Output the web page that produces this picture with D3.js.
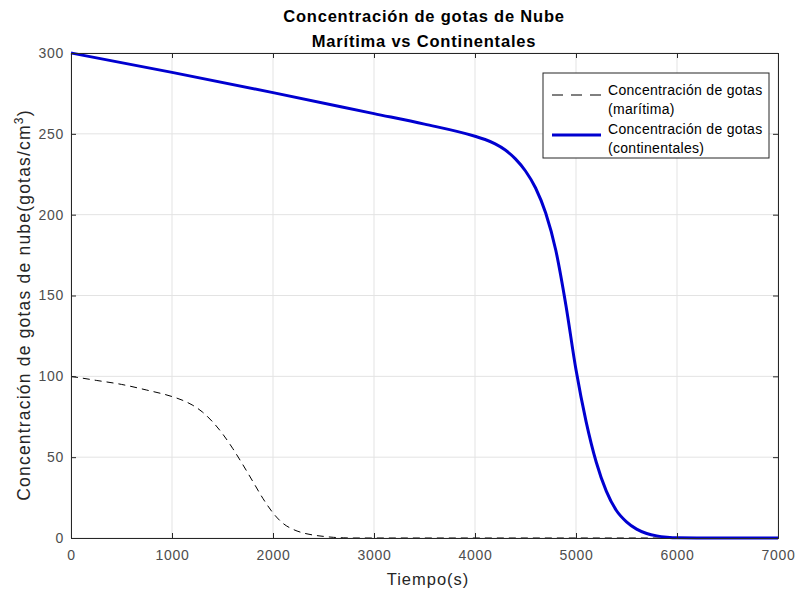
<!DOCTYPE html>
<html><head><meta charset="utf-8">
<script src="https://cdn.jsdelivr.net/npm/d3@7"></script>
<style>body{margin:0;background:#fff}text{font-family:"Liberation Sans",Arial,sans-serif}</style>
</head><body><svg id="c" width="797" height="596"></svg>
<script>
const xTicks = [0,1000,2000,3000,4000,5000,6000,7000];
const yTicks = [0,50,100,150,200,250,300];
const tMar = [0,250,500,750,1000,1100,1200,1300,1400,1500,1600,1700,1800,1900,2000,2100,2200,2300,2400,2500,2600,2700,2800,3000,7000];
const vMar = [100,97.5,95,91.5,87.5,85.3,82.3,78,72,64.5,55.5,45.5,35,24.5,15.5,9,5.3,3.1,1.8,1.0,0.4,0.1,0,0,0];
const tCon = [0,1000,2000,3000,3500,4000,4100,4200,4300,4400,4500,4600,4700,4800,4900,5000,5100,5200,5300,5400,5500,5600,5700,5800,5900,6000,6500,7000];
const vCon = [300,288,275.5,262.5,256,248.5,246.5,243.8,240,234.5,227,216.5,201,178,144,104,72,47,29,17,10,5.5,2.8,1.3,0.5,0.1,0,0];
const legendLabels = [["Concentración de gotas","(marítima)"],["Concentración de gotas","(continentales)"]];

const svg = d3.select("#c");
const L=71,R=778,T=53,B=538;
const x = d3.scaleLinear().domain([0,7000]).range([L,R]);
const y = d3.scaleLinear().domain([0,300]).range([B,T]);
const g = svg.append("g");
// grid
g.selectAll(".gx").data(xTicks).enter().append("line").attr("x1",d=>x(d)).attr("x2",d=>x(d)).attr("y1",T).attr("y2",B).attr("stroke","#e3e3e3");
g.selectAll(".gy").data(yTicks).enter().append("line").attr("y1",d=>y(d)).attr("y2",d=>y(d)).attr("x1",L).attr("x2",R).attr("stroke","#e3e3e3");
// lines
const lm = d3.line().x((d,i)=>x(tMar[i])).y(d=>y(d)).curve(d3.curveMonotoneX);
g.append("path").attr("d",lm(vMar)).attr("fill","none").attr("stroke","#000").attr("stroke-width",1).attr("stroke-dasharray","7,5");
const lc = d3.line().x((d,i)=>x(tCon[i])).y(d=>y(d)).curve(d3.curveMonotoneX);
g.append("path").attr("d",lc(vCon)).attr("fill","none").attr("stroke","#0000d0").attr("stroke-width",3);
// axes
const ax = d3.axisBottom(x).tickValues(xTicks).tickSize(-5).tickPadding(12).tickFormat(d3.format("d"));
const ay = d3.axisLeft(y).tickValues(yTicks).tickSize(-5).tickPadding(7);
const gx = g.append("g").attr("transform",`translate(0,${B})`).call(ax);
const gy = g.append("g").attr("transform",`translate(${L},0)`).call(ay);
const gt = g.append("g").attr("transform",`translate(0,${T})`).call(d3.axisTop(x).tickValues(xTicks).tickSize(-5).tickFormat(""));
const gr = g.append("g").attr("transform",`translate(${R},0)`).call(d3.axisRight(y).tickValues(yTicks).tickSize(-5).tickFormat(""));
[gx,gy,gt,gr].forEach(a=>{a.select(".domain").attr("stroke","#262626");a.selectAll(".tick line").attr("stroke","#262626");a.selectAll("text").attr("fill","#4d4d4d").style("font-size","14px").style("letter-spacing","0.7px").style("font-family","'Liberation Sans',Arial,sans-serif");});
// titles
const tt = {fs:"16.5px", ls:"0.8px"};
svg.append("text").attr("x",424).attr("y",22).attr("text-anchor","middle").style("font-weight","bold").style("font-size",tt.fs).style("letter-spacing",tt.ls).attr("fill","#000").text("Concentración de gotas de Nube");
svg.append("text").attr("x",424).attr("y",47).attr("text-anchor","middle").style("font-weight","bold").style("font-size",tt.fs).style("letter-spacing",tt.ls).attr("fill","#000").text("Marítima vs Continentales");
svg.append("text").attr("x",428).attr("y",585).attr("text-anchor","middle").style("font-size","16.5px").style("letter-spacing","1px").attr("fill","#262626").text("Tiempo(s)");
const yl = svg.append("text").attr("transform",`translate(30,305) rotate(-90)`).attr("text-anchor","middle").style("font-size","17.5px").style("letter-spacing","1.2px").attr("fill","#262626");
yl.append("tspan").text("Concentración de gotas de nube(gotas/cm");
yl.append("tspan").attr("dy",-7).style("font-size","12px").text("3");
yl.append("tspan").attr("dy",7).text(")");
// legend
const lg = svg.append("g");
lg.append("rect").attr("x",543).attr("y",73).attr("width",226).attr("height",85).attr("fill","#fff").attr("stroke","#262626").attr("stroke-width",1);
lg.append("line").attr("x1",552).attr("x2",601).attr("y1",95).attr("y2",95).attr("stroke","#000").attr("stroke-dasharray","11,8");
lg.append("line").attr("x1",552).attr("x2",601).attr("y1",135).attr("y2",135).attr("stroke","#0000d0").attr("stroke-width",3);
legendLabels.forEach((lab,i)=>{
  lab.forEach((s,j)=>{
    lg.append("text").attr("x",608).attr("y",95+i*39+j*18.5).style("font-size","14px").style("letter-spacing","0.3px").attr("fill","#000").text(s);
  });
});
</script></body></html>
